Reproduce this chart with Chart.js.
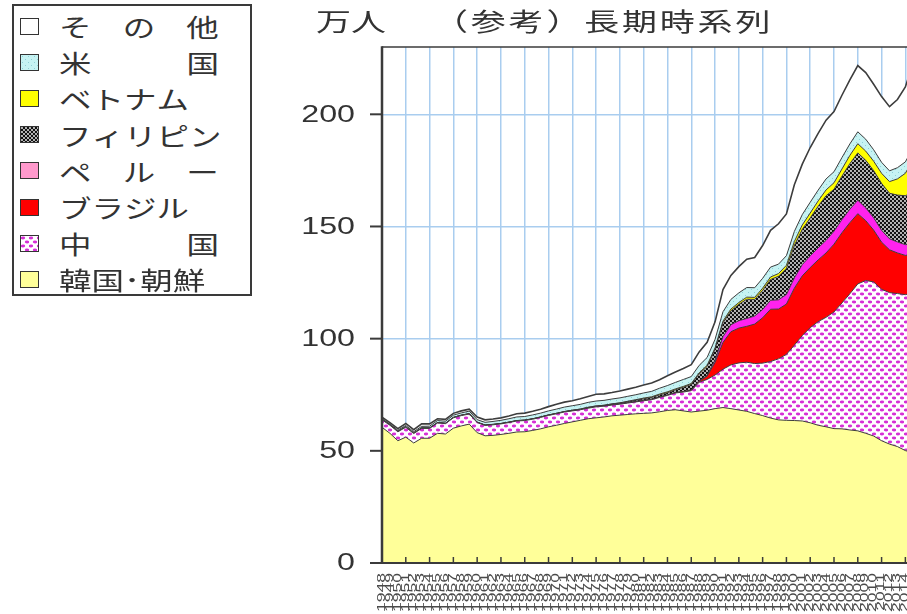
<!DOCTYPE html>
<html lang="ja">
<head>
<meta charset="utf-8">
<title>在留外国人数の推移（参考）長期時系列</title>
<script src="https://cdn.jsdelivr.net/npm/chart.js@4.4.1/dist/chart.umd.min.js"></script>
<style>
  html, body { margin:0; padding:0; width:907px; height:614px; overflow:hidden; background:#fff; }
  #stage { position:absolute; left:0; top:0; width:930px; height:614px; }
  #chart { position:absolute; left:0; top:0; }
  .jp { font-family:"Noto Sans CJK JP", sans-serif; color:#333; white-space:nowrap; }
  #unit, #title { position:absolute; top:5px; font-size:25px; line-height:30px; transform:scaleX(1.4); transform-origin:left center; }
  #unit { left:316px; }
  #title { left:433px; letter-spacing:2px; }
  #legend { position:absolute; left:12px; top:4px; width:240px; height:292px; border:2px solid #3a3a3a; box-sizing:border-box; background:#fff; }
  .row { position:absolute; left:6px; height:30px; display:flex; align-items:center; }
  .sw { width:17px; height:15px; border:1.5px solid #333; background-repeat:repeat; }
  .name { margin-left:20px; font-size:25px; line-height:30px; display:flex; transform:scaleX(1.3); transform-origin:left center; }
  .name.spread { width:123px; justify-content:space-between; }
</style>
</head>
<body>
<div id="stage">
  <canvas id="chart" width="930" height="614"></canvas>
  <div id="unit" class="jp"></div>
  <div id="title" class="jp"></div>
  <div id="legend" class="jp"></div>
</div>
<script>
// Registered foreign residents in Japan by nationality, year end (unit: 10,000 persons)
const years = [
  1948, 1949, 1950, 1951, 1952, 1953, 1954, 1955, 1956, 1957,
  1958, 1959, 1960, 1961, 1962, 1963, 1964, 1965, 1966, 1967,
  1968, 1969, 1970, 1971, 1972, 1973, 1974, 1975, 1976, 1977,
  1978, 1979, 1980, 1981, 1982, 1983, 1984, 1985, 1986, 1987,
  1988, 1989, 1990, 1991, 1992, 1993, 1994, 1995, 1996, 1997,
  1998, 1999, 2000, 2001, 2002, 2003, 2004, 2005, 2006, 2007,
  2008, 2009, 2010, 2011, 2012, 2013, 2014, 2015
];

const korea = [
  60.5, 57.8, 54.5, 56.1, 53.5, 55.6, 55.6, 57.8, 57.5, 60.1,
  61.1, 61.9, 58.1, 56.7, 56.9, 57.3, 57.8, 58.4, 58.5, 59.1,
  59.8, 60.7, 61.4, 62.2, 62.9, 63.6, 64.3, 64.7, 65.1, 65.6,
  65.9, 66.2, 66.5, 66.7, 66.9, 67.4, 68.0, 68.3, 67.8, 67.3,
  67.7, 68.1, 68.8, 69.3, 68.8, 68.2, 67.6, 66.6, 65.7, 64.6,
  63.8, 63.6, 63.5, 63.3, 62.5, 61.4, 60.7, 59.9, 59.8, 59.3,
  58.9, 57.8, 56.6, 54.5, 53.0, 51.9, 50.1, 49.1
];

const china = [
  3.3, 3.6, 4.0, 4.4, 4.2, 4.4, 4.4, 4.6, 4.6, 4.6,
  4.6, 4.5, 4.5, 4.6, 4.7, 4.7, 4.8, 4.9, 5.0, 5.0,
  5.1, 5.1, 5.1, 5.1, 4.9, 4.7, 4.7, 4.9, 4.8, 4.8,
  4.9, 5.1, 5.3, 5.6, 5.9, 6.4, 6.7, 7.5, 8.4, 9.5,
  12.9, 13.7, 15.0, 17.1, 19.5, 21.0, 21.9, 22.3, 23.4, 25.2,
  27.2, 29.4, 33.6, 38.1, 42.4, 46.2, 48.8, 52.0, 56.1, 60.7,
  65.5, 68.1, 68.7, 67.5, 67.5, 68.2, 69.5, 71.3
];

const brazil = [
  0.1, 0.1, 0.1, 0.1, 0.1, 0.1, 0.1, 0.1, 0.1, 0.1,
  0.1, 0.1, 0.1, 0.1, 0.1, 0.1, 0.1, 0.1, 0.1, 0.1,
  0.1, 0.1, 0.1, 0.1, 0.1, 0.1, 0.1, 0.1, 0.1, 0.1,
  0.1, 0.1, 0.2, 0.2, 0.2, 0.2, 0.2, 0.2, 0.2, 0.3,
  0.4, 1.5, 5.6, 11.9, 14.8, 15.5, 16.0, 17.6, 20.2, 23.3,
  22.2, 22.4, 25.4, 26.6, 26.8, 27.5, 28.7, 30.2, 31.3, 31.7,
  31.3, 26.7, 23.1, 21.0, 19.1, 18.1, 17.5, 17.3
];

const peru = [
  0, 0, 0, 0, 0, 0, 0, 0, 0, 0,
  0, 0, 0, 0, 0, 0, 0, 0, 0, 0,
  0, 0, 0, 0, 0, 0, 0, 0, 0, 0,
  0, 0, 0, 0, 0, 0, 0, 0, 0, 0,
  0.1, 0.4, 1.0, 2.6, 3.1, 3.3, 3.5, 3.6, 3.7, 4.0,
  4.1, 4.3, 4.6, 5.0, 5.2, 5.4, 5.6, 5.8, 5.9, 6.0,
  6.0, 5.7, 5.5, 5.3, 4.9, 4.9, 4.8, 4.8
];

const philippines = [
  0.1, 0.1, 0.1, 0.1, 0.1, 0.1, 0.1, 0.1, 0.1, 0.1,
  0.1, 0.1, 0.1, 0.1, 0.1, 0.1, 0.1, 0.1, 0.1, 0.1,
  0.1, 0.1, 0.1, 0.1, 0.2, 0.2, 0.3, 0.3, 0.3, 0.4,
  0.4, 0.5, 0.6, 0.7, 0.8, 0.9, 1.0, 1.2, 1.9, 2.5,
  3.2, 3.9, 4.9, 6.2, 6.2, 7.3, 8.6, 7.4, 8.5, 9.3,
  10.5, 11.6, 14.5, 15.7, 16.9, 18.5, 19.9, 18.7, 19.3, 20.3,
  21.1, 21.2, 21.0, 20.9, 20.3, 20.9, 21.8, 22.9
];

const vietnam = [
  0, 0, 0, 0, 0, 0, 0, 0, 0, 0,
  0, 0, 0, 0, 0, 0, 0, 0, 0, 0,
  0, 0, 0, 0, 0, 0, 0, 0, 0, 0,
  0.1, 0.2, 0.2, 0.3, 0.3, 0.4, 0.4, 0.4, 0.4, 0.4,
  0.5, 0.5, 0.6, 0.7, 0.8, 0.8, 0.9, 0.9, 1.0, 1.1,
  1.2, 1.4, 1.7, 2.0, 2.2, 2.4, 2.6, 2.9, 3.2, 3.7,
  4.1, 4.1, 4.2, 4.5, 5.2, 7.2, 10.0, 14.7
];

const usa = [
  0.3, 0.4, 0.5, 0.6, 0.6, 0.7, 0.8, 0.9, 0.9, 1.0,
  1.0, 1.1, 1.1, 1.2, 1.3, 1.4, 1.5, 1.6, 1.6, 1.7,
  1.7, 1.8, 1.9, 2.0, 2.0, 2.1, 2.2, 2.2, 2.2, 2.2,
  2.2, 2.2, 2.2, 2.3, 2.4, 2.6, 2.8, 2.9, 3.1, 3.1,
  3.3, 3.5, 3.8, 4.2, 4.3, 4.3, 4.3, 4.3, 4.4, 4.4,
  4.2, 4.3, 4.5, 4.6, 4.8, 4.8, 4.9, 4.9, 5.1, 5.1,
  5.3, 5.3, 5.1, 4.9, 4.8, 5.0, 5.1, 5.2
];

const others = [
  0.7, 0.6, 0.7, 0.9, 0.9, 1.1, 1.0, 0.8, 0.8, 0.8,
  0.9, 0.9, 1.2, 1.1, 1.1, 1.1, 1.2, 1.4, 1.5, 1.6,
  1.7, 1.9, 2.2, 2.2, 2.2, 2.5, 2.6, 3.0, 2.9, 2.9,
  3.1, 3.2, 3.3, 3.5, 3.7, 3.8, 4.4, 4.6, 4.9, 5.3,
  6.0, 6.8, 7.8, 9.9, 10.7, 11.7, 12.6, 13.5, 14.6, 16.4,
  18.0, 18.6, 20.8, 22.5, 24.4, 25.3, 26.2, 26.8, 27.8, 28.5,
  29.5, 29.7, 29.2, 29.3, 28.6, 30.4, 33.4, 37.9
];

const seriesNames = ['韓国･朝鮮', '中国', 'ブラジル', 'ペルー', 'フィリピン', 'ベトナム', '米国', 'その他'];
const seriesValues = [korea, china, brazil, peru, philippines, vietnam, usa, others];
const yTickValues = [0, 50, 100, 150, 200];
const unitText = '万人';
const titleText = '（参考）長期時系列';

// ---- fills: plain colours and small repeating tiles ----
function makeTile(w, h, paint) {
  const c = document.createElement('canvas');
  c.width = w; c.height = h;
  paint(c.getContext('2d'), w, h);
  return c;
}
const magentaDots = makeTile(8, 8, (g, w, h) => {
  g.fillStyle = '#ffffff'; g.fillRect(0, 0, w, h);
  g.fillStyle = '#d62fd6';
  [[2, 2], [6, 6]].forEach(([cx, cy]) => {
    g.beginPath(); g.ellipse(cx, cy, 2.2, 1.4, 0, 0, Math.PI * 2); g.fill();
  });
});
const darkChecks = makeTile(4, 4, (g, w, h) => {
  g.fillStyle = '#111111'; g.fillRect(0, 0, w, h);
  g.fillStyle = '#ffffff';
  [[1, 1], [3, 3]].forEach(([cx, cy]) => {
    g.beginPath(); g.arc(cx, cy, 0.9, 0, Math.PI * 2); g.fill();
  });
});
const cyanDots = makeTile(6, 6, (g, w, h) => {
  g.fillStyle = '#c6f3f3'; g.fillRect(0, 0, w, h);
  g.fillStyle = '#8fd0d6';
  g.fillRect(1, 1, 1, 1); g.fillRect(4, 4, 1, 1);
});

const canvas = document.getElementById('chart');
const pctx = canvas.getContext('2d');
const pat = t => pctx.createPattern(t, 'repeat');

// chart fill, legend swatch
const seriesFills = [
  ['#ffff99', '#ffff99'],
  [pat(magentaDots), 'url(' + magentaDots.toDataURL() + ')'],
  ['#ff0000', '#ff0000'],
  ['#ff22ee', '#ff99cc'],
  [pat(darkChecks), 'url(' + darkChecks.toDataURL() + ')'],
  ['#ffff00', '#ffff00'],
  [pat(cyanDots), 'url(' + cyanDots.toDataURL() + ')'],
  ['#ffffff', '#ffffff']
];

const datasets = seriesValues.map((vals, i) => ({
  label: seriesNames[i],
  data: vals.map((v, j) => ({ x: years[j], y: v })),
  backgroundColor: seriesFills[i][0],
  borderColor: '#3d3d3d',
  borderWidth: i === seriesValues.length - 1 ? 1.6 : 1,
  fill: i === 0 ? 'origin' : '-1',
  pointRadius: 0,
  tension: 0
}));

const gridBlue = '#a9cdef';
const clear = 'rgba(0,0,0,0)';
const everyThird = v => v > years[0] && (v - years[0]) % 3 === 0;

// frame, tick marks and tick labels
const axisDecor = {
  id: 'axisDecor',
  afterDatasetsDraw(chart) {
    const { ctx, chartArea: a, scales: { x, y } } = chart;
    const seg = (x1, y1, x2, y2) => { ctx.beginPath(); ctx.moveTo(x1, y1); ctx.lineTo(x2, y2); ctx.stroke(); };
    ctx.save();
    ctx.strokeStyle = '#3b3b3b';
    ctx.lineWidth = 1.5; seg(a.left, a.top, a.right, a.top);
    ctx.lineWidth = 2; seg(a.right, a.top, a.right, a.bottom);
    ctx.lineWidth = 2.5; seg(a.left, a.top - 0.75, a.left, a.bottom + 1);
    ctx.lineWidth = 2; seg(a.left - 1, a.bottom, a.right, a.bottom);

    ctx.fillStyle = '#333';
    ctx.font = '23px "Liberation Sans", sans-serif';
    ctx.textAlign = 'right';
    ctx.textBaseline = 'middle';
    yTickValues.forEach(v => {
      const py = y.getPixelForValue(v);
      seg(a.left - 12, py, a.left, py);
      ctx.save();
      ctx.translate(a.left - 27, py);
      ctx.scale(1.4, 1);
      ctx.fillText(String(v), 0, 1);
      ctx.restore();
    });

    ctx.lineWidth = 1.5;
    years.forEach(yr => {
      if (everyThird(yr)) {
        const px = x.getPixelForValue(yr);
        seg(px, a.bottom, px, a.bottom - 6);
      }
    });

    ctx.font = '10px "Liberation Sans", sans-serif';
    ctx.fillStyle = '#4a4a4a';
    years.forEach(yr => {
      const px = x.getPixelForValue(yr);
      ctx.save();
      ctx.translate(px, a.bottom + 10);
      ctx.rotate(-Math.PI / 2);
      ctx.scale(1.75, 1);
      ctx.textAlign = 'right';
      ctx.textBaseline = 'middle';
      ctx.fillText(String(yr), 0, 0);
      ctx.restore();
    });
    ctx.restore();
  }
};

new Chart(canvas, {
  type: 'line',
  data: { datasets },
  options: {
    responsive: false,
    animation: false,
    devicePixelRatio: 1,
    layout: { padding: { left: 382, right: 16.7, top: 47, bottom: 51 } },
    plugins: { legend: { display: false }, tooltip: { enabled: false }, title: { display: false } },
    scales: {
      x: {
        type: 'linear',
        min: years[0],
        max: years[years.length - 1],
        ticks: { display: false },
        afterBuildTicks: s => { s.ticks = years.map(v => ({ value: v })); },
        grid: {
          drawTicks: false,
          lineWidth: 1.5,
          color: c => (c.tick && everyThird(c.tick.value)) ? gridBlue : clear
        },
        border: { display: false },
        afterFit: s => { s.height = 0; }
      },
      y: {
        stacked: true,
        min: 0,
        max: 230,
        ticks: { display: false, stepSize: 50 },
        grid: {
          drawTicks: false,
          lineWidth: 1.5,
          color: c => (c.tick && c.tick.value > 0 && c.tick.value <= 200) ? gridBlue : clear
        },
        border: { display: false },
        afterFit: s => { s.width = 0; }
      }
    }
  },
  plugins: [axisDecor]
});

// captions
document.getElementById('unit').textContent = unitText;
document.getElementById('title').textContent = titleText;

// legend box, top series first
const legend = document.getElementById('legend');
for (let k = 0; k < seriesNames.length; k++) {
  const i = seriesNames.length - 1 - k;
  const row = document.createElement('div');
  row.className = 'row';
  row.style.top = (5 + 36.2 * k) + 'px';
  const sw = document.createElement('div');
  sw.className = 'sw';
  const swFill = seriesFills[i][1];
  if (swFill.startsWith('url(')) sw.style.backgroundImage = swFill; else sw.style.background = swFill;
  const name = document.createElement('div');
  const chars = Array.from(seriesNames[i]);
  name.className = chars.length <= 3 ? 'name spread' : 'name';
  chars.forEach(ch => { const s = document.createElement('span'); s.textContent = ch; name.appendChild(s); });
  row.appendChild(sw);
  row.appendChild(name);
  legend.appendChild(row);
}
</script>
</body>
</html>
